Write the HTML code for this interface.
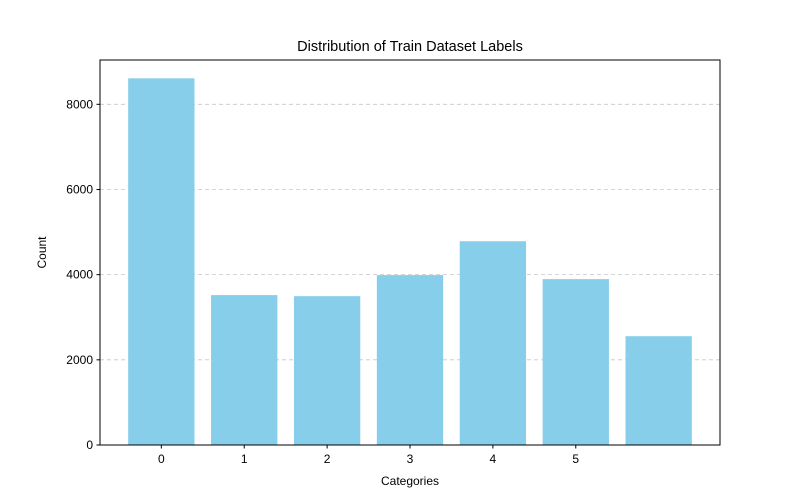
<!DOCTYPE html>
<html><head><meta charset="utf-8"><style>body{margin:0;background:#fff}svg{display:block;font-family:"Liberation Sans","DejaVu Sans",sans-serif}</style></head>
<body>
<svg id="chart" width="800" height="500"></svg>
<script>
const categories=[0,1,2,3,4,5,6];
const counts=[8610,3520,3495,3990,4785,3895,2555];
const xTickLabels=["0","1","2","3","4","5"];
const yTicks=[0,2000,4000,6000,8000];
const NS="http://www.w3.org/2000/svg";
const svg=document.getElementById('chart');
const L=100,R=720,T=60,B=445;
const xmin=-0.74,xmax=6.74,ymax=Math.max(...counts)*1.05;
const x=v=>L+(v-xmin)/(xmax-xmin)*(R-L);
const y=v=>B-v/ymax*(B-T);
function mk(t,a,txt){const e=document.createElementNS(NS,t);for(const k in a)e.setAttribute(k,a[k]);if(txt!==undefined)e.textContent=txt;svg.appendChild(e);return e;}
yTicks.forEach(v=>{
 const g=mk('line',{x1:L,x2:R,y1:y(v),y2:y(v),stroke:'#b0b0b0','stroke-width':0.8,'stroke-dasharray':'4,3',opacity:0.7});
 
 
});
categories.forEach((c,i)=>{
 const r=mk('rect',{x:x(c-0.4),y:y(counts[i]),width:x(c+0.4)-x(c-0.4),height:B-y(counts[i]),fill:'#87ceeb'});
 
 
});
const f=mk('rect',{x:L,y:T,width:R-L,height:B-T,fill:'none',stroke:'#000','stroke-width':1});


yTicks.forEach(v=>{
 const t=mk('line',{x1:L-3.5,x2:L,y1:y(v),y2:y(v),stroke:'#000'});
 
 
 const l=mk('text',{x:L-7,y:y(v)+4,'text-anchor':'end','font-size':12},String(v));
 
 
});
xTickLabels.forEach((s,i)=>{
 const t=mk('line',{x1:x(i),x2:x(i),y1:B,y2:B+3.5,stroke:'#000'});
 
 
 const l=mk('text',{x:x(i),y:B+18,'text-anchor':'middle','font-size':12},s);
 
 
});
const ti=mk('text',{x:(L+R)/2,y:51,'text-anchor':'middle','font-size':14.5},'Distribution of Train Dataset Labels');


const xl=mk('text',{x:(L+R)/2,y:485,'text-anchor':'middle','font-size':12},'Categories');


const yl=mk('text',{x:46,y:(T+B)/2,'text-anchor':'middle','font-size':12,transform:'rotate(-90 46 '+((T+B)/2)+')'},'Count');


</script>
</body></html>
